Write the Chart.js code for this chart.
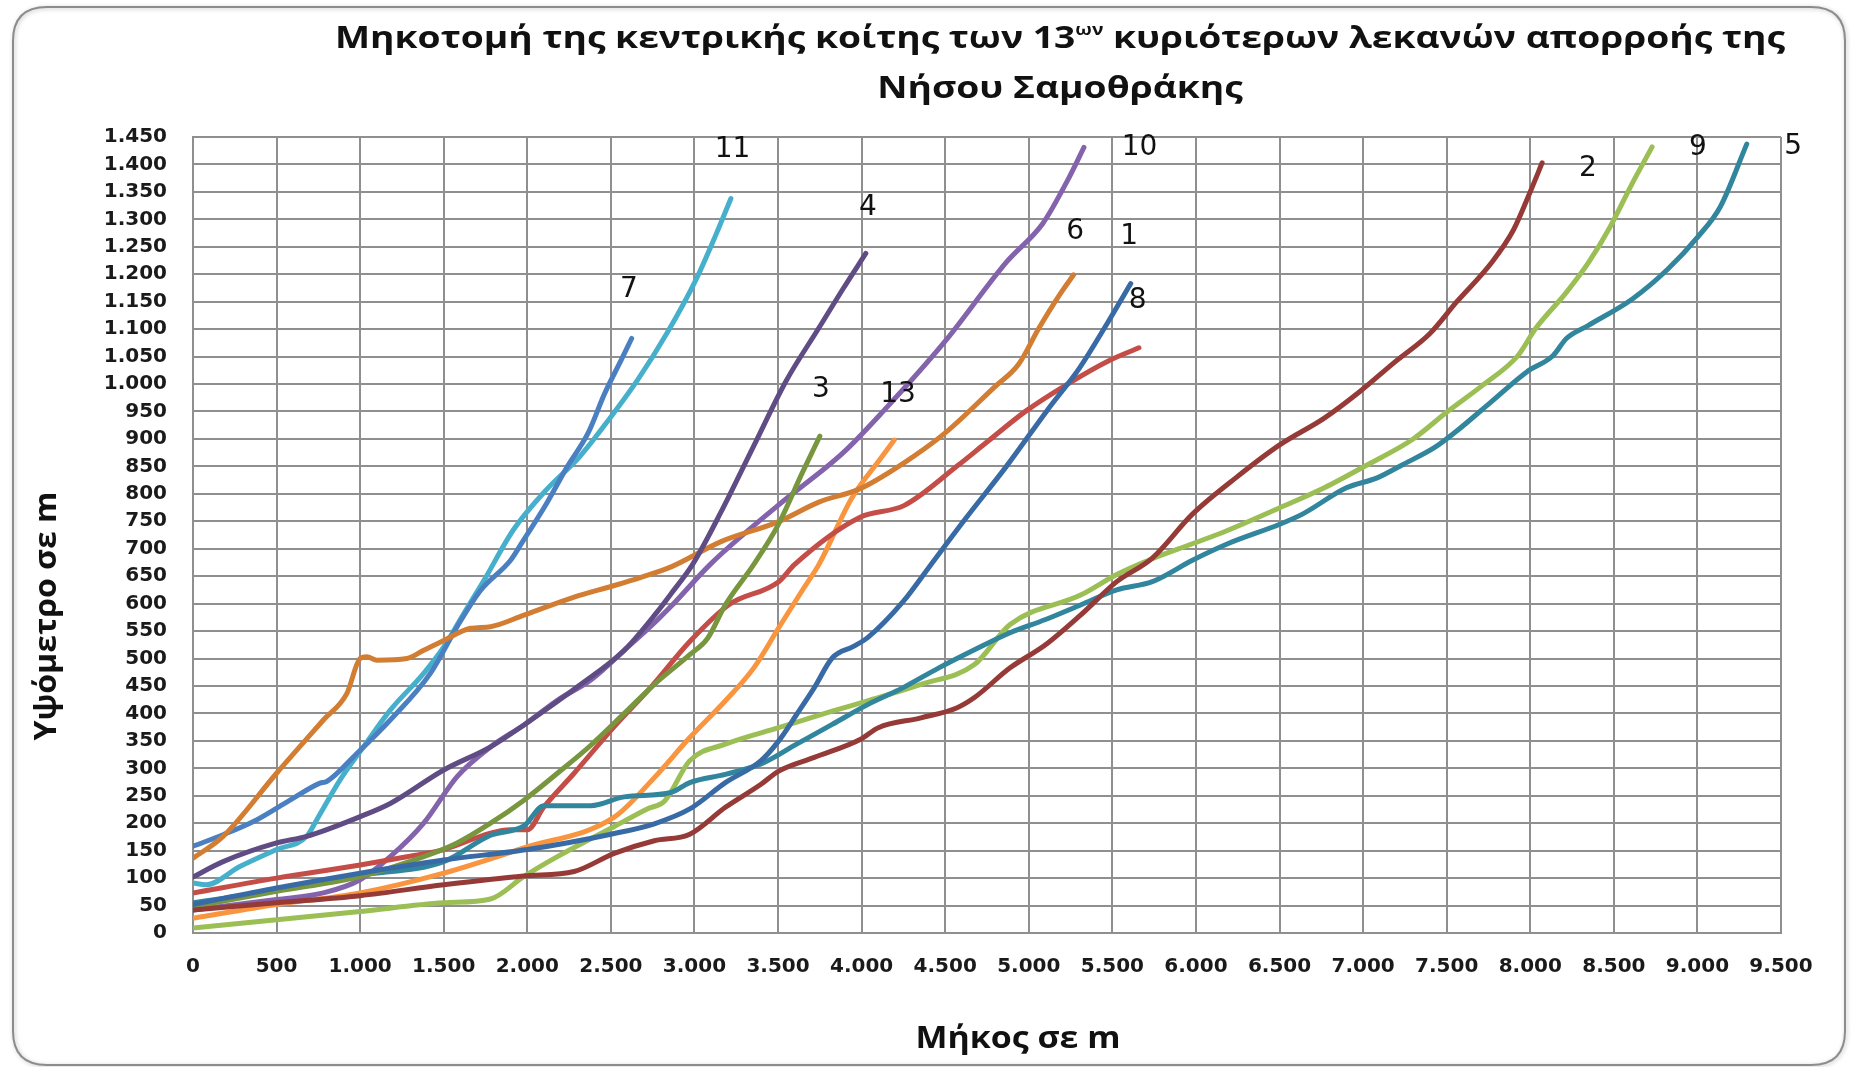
<!DOCTYPE html>
<html>
<head>
<meta charset="utf-8">
<script src="https://cdn.jsdelivr.net/npm/chart.js@4.4.1/dist/chart.umd.min.js"></script>
<style>
  html, body { margin: 0; padding: 0; background: #ffffff; }
  canvas { display: block; }
</style>
</head>
<body>
<canvas id="profile" width="1857" height="1067"></canvas>
<script>
// Longitudinal profiles of the main stream bed: distance (m) vs elevation (m)
const dist1 = [0, 500, 1000, 1500, 2000, 2500, 2760, 2972, 3185, 3398, 3504, 3611, 3717, 3824, 3951, 4036, 4249, 4400, 4622, 4866, 5110, 5305, 5476, 5610];
const elev1 = [52, 82, 109, 133, 152, 180, 199, 226, 274, 314, 350, 398, 447, 501, 522, 538, 604, 665, 755, 850, 952, 1030, 1114, 1183];

const dist2 = [0, 500, 1000, 1500, 1980, 2280, 2520, 2760, 2972, 3185, 3398, 3504, 3717, 3994, 4100, 4355, 4568, 4675, 4888, 5100, 5313, 5526, 5739, 5979, 6242, 6505, 6768, 6979, 7189, 7400, 7558, 7768, 7900, 8005, 8071];
const elev2 = [42, 55, 68, 88, 104, 112, 145, 168, 180, 229, 271, 295, 320, 353, 374, 392, 410, 429, 483, 525, 580, 640, 683, 763, 830, 890, 938, 986, 1040, 1092, 1149, 1221, 1281, 1354, 1403];

const dist3 = [0, 500, 1000, 1380, 1580, 1780, 1980, 2180, 2380, 2580, 2760, 2972, 3079, 3185, 3354, 3500, 3646, 3750];
const elev3 = [48, 76, 103, 139, 164, 200, 242, 291, 342, 400, 453, 507, 537, 598, 671, 743, 839, 905];

const dist4 = [0, 180, 500, 680, 1000, 1180, 1500, 1780, 1980, 2316, 2580, 2777, 2860, 2988, 3159, 3354, 3549, 3744, 3890, 4025];
const elev4 = [102, 130, 164, 176, 212, 236, 297, 339, 379, 452, 515, 585, 618, 671, 767, 887, 1006, 1102, 1174, 1238];

const dist5 = [0, 500, 1000, 1500, 1780, 1980, 2100, 2380, 2580, 2860, 2972, 3185, 3398, 3611, 3824, 4036, 4249, 4462, 4675, 4888, 5100, 5313, 5526, 5739, 5979, 6190, 6505, 6637, 6900, 7084, 7242, 7426, 7558, 7768, 7979, 8137, 8216, 8348, 8611, 8822, 9005, 9137, 9295];
const elev5 = [55, 78, 105, 130, 178, 195, 232, 232, 248, 256, 274, 289, 308, 344, 380, 416, 447, 483, 516, 547, 571, 598, 625, 640, 679, 709, 745, 763, 811, 829, 854, 884, 914, 968, 1022, 1052, 1083, 1107, 1155, 1209, 1269, 1323, 1437];

const dist6 = [0, 180, 500, 780, 920, 1000, 1040, 1100, 1280, 1380, 1500, 1660, 1780, 1980, 2280, 2520, 2680, 2860, 3159, 3500, 3744, 3988, 4256, 4500, 4793, 4939, 5061, 5183, 5268];
const elev6 = [136, 176, 291, 388, 436, 500, 503, 497, 500, 515, 533, 555, 558, 579, 612, 633, 648, 667, 713, 749, 785, 809, 857, 911, 994, 1036, 1102, 1162, 1199];

const dist7 = [0, 180, 380, 580, 760, 800, 980, 1180, 1420, 1580, 1720, 1900, 1968, 2116, 2240, 2364, 2463, 2562, 2624];
const elev7 = [158, 179, 206, 242, 273, 276, 327, 388, 473, 558, 624, 679, 711, 783, 850, 911, 983, 1044, 1083];

const dist8 = [0, 500, 1000, 1280, 1500, 1780, 1900, 2000, 2100, 2280, 2520, 2740, 2972, 3206, 3504, 3598, 3988, 4256, 4573, 4744, 4988, 5232, 5476, 5659];
const elev8 = [73, 100, 124, 139, 152, 182, 188, 188, 230, 291, 376, 448, 531, 598, 640, 671, 757, 779, 851, 893, 952, 1000, 1042, 1066];

const dist9 = [0, 500, 1000, 1500, 1780, 1980, 2180, 2520, 2717, 2823, 2972, 3185, 3504, 3824, 4036, 4355, 4675, 4888, 5313, 5526, 5716, 5979, 6163, 6505, 6768, 7032, 7295, 7505, 7716, 7927, 8032, 8216, 8348, 8479, 8611, 8729];
const elev9 = [9, 24, 39, 55, 62, 103, 139, 194, 226, 241, 314, 344, 374, 404, 423, 453, 489, 562, 616, 653, 679, 709, 730, 775, 811, 854, 899, 950, 998, 1052, 1101, 1167, 1221, 1287, 1366, 1432];

const dist10 = [0, 500, 780, 1000, 1180, 1380, 1580, 1780, 1980, 2180, 2380, 2580, 2777, 2860, 3096, 3500, 3890, 4134, 4500, 4866, 5085, 5232, 5330];
const elev10 = [42, 61, 73, 97, 139, 200, 285, 339, 379, 424, 461, 515, 570, 595, 672, 779, 875, 952, 1078, 1222, 1293, 1371, 1431];

const dist11 = [0, 80, 280, 500, 680, 740, 880, 1020, 1180, 1380, 1500, 1620, 1740, 1918, 2116, 2314, 2487, 2661, 2834, 3007, 3131, 3218];
const elev11 = [91, 88, 121, 152, 176, 206, 279, 339, 406, 473, 521, 582, 642, 735, 808, 868, 935, 1008, 1092, 1189, 1274, 1338];

const dist13 = [0, 500, 1000, 1500, 1980, 2520, 2760, 2972, 3185, 3355, 3504, 3653, 3744, 3939, 4110, 4195];
const elev13 = [27, 52, 73, 109, 155, 211, 283, 356, 423, 483, 556, 628, 671, 791, 863, 898];

// Basin numbers written next to the upper end of each profile (data units)
const tagText = ['11', '7', '4', '10', '6', '1', '8', '3', '13', '2', '9', '5'];
const tagDist = [3228, 2608, 4038, 5663, 5277, 5600, 5651, 3757, 4218, 8345, 9003, 9572];
const tagElev = [1426, 1171, 1321, 1430, 1277, 1268, 1151, 989, 980, 1393, 1430, 1432];

// Axis ranges
const xMax = 9500, xStep = 500;
const yMax = 1450, yStep = 50;

const titleLine1a = 'Μηκοτομή της κεντρικής κοίτης των 13';
const titleSup = 'ων';
const titleLine1b = ' κυριότερων λεκανών απορροής της';
const titleLine2 = 'Νήσου Σαμοθράκης';
const xTitle = 'Μήκος σε m';
const yTitle = 'Υψόμετρο σε m';

const series = [
  { id: '1',  d: dist1,  e: elev1,  color: '#386AA6' },
  { id: '2',  d: dist2,  e: elev2,  color: '#963A37' },
  { id: '3',  d: dist3,  e: elev3,  color: '#77963E' },
  { id: '4',  d: dist4,  e: elev4,  color: '#604C84' },
  { id: '5',  d: dist5,  e: elev5,  color: '#31869E' },
  { id: '6',  d: dist6,  e: elev6,  color: '#D27D32' },
  { id: '7',  d: dist7,  e: elev7,  color: '#4A7FC1' },
  { id: '8',  d: dist8,  e: elev8,  color: '#C44D48' },
  { id: '9',  d: dist9,  e: elev9,  color: '#9BBF55' },
  { id: '10', d: dist10, e: elev10, color: '#8363AC' },
  { id: '11', d: dist11, e: elev11, color: '#46B0CC' },
  { id: '13', d: dist13, e: elev13, color: '#F8953E' }
];

const datasets = series.map(s => ({
  label: s.id,
  data: s.d.map((x, i) => ({ x: x, y: s.e[i] })),
  borderColor: s.color,
  backgroundColor: s.color,
  borderWidth: 5,
  pointRadius: 0,
  fill: false,
  cubicInterpolationMode: 'monotone',
  borderCapStyle: 'round',
  borderJoinStyle: 'round'
}));

// Greek style thousands separator: 1.000, 1.450 ...
function fmt(v) {
  return String(v).replace(/\B(?=(\d{3})+(?!\d))/g, '.');
}

// Draws a string horizontally stretched/condensed to a given width
function fitText(ctx, text, cx, cy, width) {
  const w = ctx.measureText(text).width;
  ctx.save();
  ctx.translate(cx, cy);
  ctx.scale(width / w, 1);
  ctx.textAlign = 'center';
  ctx.fillText(text, 0, 0);
  ctx.restore();
}

const framePlugin = {
  id: 'frame',
  beforeDraw(chart) {
    const ctx = chart.ctx;
    ctx.save();
    ctx.fillStyle = '#ffffff';
    ctx.fillRect(0, 0, chart.width, chart.height);
    const x = 13, y = 7, w = 1832, h = 1058, r = 34;
    ctx.beginPath();
    ctx.moveTo(x + r, y);
    ctx.lineTo(x + w - r, y);
    ctx.quadraticCurveTo(x + w, y, x + w, y + r);
    ctx.lineTo(x + w, y + h - r);
    ctx.quadraticCurveTo(x + w, y + h, x + w - r, y + h);
    ctx.lineTo(x + r, y + h);
    ctx.quadraticCurveTo(x, y + h, x, y + h - r);
    ctx.lineTo(x, y + r);
    ctx.quadraticCurveTo(x, y, x + r, y);
    ctx.closePath();
    ctx.shadowColor = 'rgba(0,0,0,0.25)';
    ctx.shadowBlur = 4;
    ctx.shadowOffsetX = 1;
    ctx.shadowOffsetY = 1;
    ctx.strokeStyle = '#8c8c8c';
    ctx.lineWidth = 2;
    ctx.stroke();
    ctx.restore();
  }
};

const textPlugin = {
  id: 'texts',
  afterDraw(chart) {
    const ctx = chart.ctx;
    const xs = chart.scales.x, ys = chart.scales.y;
    ctx.save();
    ctx.fillStyle = '#111111';
    ctx.textBaseline = 'alphabetic';

    // Title, line 1 (with superscript)
    const mainFont = 'bold 31px "Open Sans"';
    const supFont = 'bold 16px "Open Sans"';
    ctx.font = mainFont;
    const wa = ctx.measureText(titleLine1a).width;
    const wb = ctx.measureText(titleLine1b).width;
    ctx.font = supFont;
    const ws = ctx.measureText(titleSup).width;
    const natural = wa + ws + wb;
    const target = 1450;
    const k = target / natural;
    ctx.save();
    ctx.translate(1060 - target / 2, 48);
    ctx.scale(k, 1);
    ctx.textAlign = 'left';
    ctx.font = mainFont;
    ctx.fillText(titleLine1a, 0, 0);
    ctx.font = supFont;
    ctx.fillText(titleSup, wa, -13);
    ctx.font = mainFont;
    ctx.fillText(titleLine1b, wa + ws, 0);
    ctx.restore();

    // Title, line 2
    ctx.font = mainFont;
    fitText(ctx, titleLine2, 1060, 98, ctx.measureText(titleLine2).width * k);

    // Axis titles
    ctx.font = 'bold 30px "Open Sans"';
    ctx.textBaseline = 'middle';
    fitText(ctx, xTitle, 1018, 1039, 205);
    ctx.save();
    ctx.translate(47, 616);
    ctx.rotate(-Math.PI / 2);
    fitText(ctx, yTitle, 0, 0, 249);
    ctx.restore();

    // Basin numbers
    ctx.font = '28px "DejaVu Sans"';
    ctx.textAlign = 'center';
    ctx.textBaseline = 'middle';
    for (let i = 0; i < tagText.length; i++) {
      ctx.fillText(tagText[i], xs.getPixelForValue(tagDist[i]), ys.getPixelForValue(tagElev[i]));
    }
    ctx.restore();
  }
};

const gridColor = '#8f8f8f';
const tickFont = { family: 'DejaVu Sans', size: 20, weight: 'bold', lineHeight: 1 };

new Chart(document.getElementById('profile'), {
  type: 'line',
  data: { datasets: datasets },
  options: {
    responsive: false,
    devicePixelRatio: 1,
    animation: false,
    layout: { padding: { left: 0, right: 76, top: 137, bottom: 0 } },
    plugins: {
      legend: { display: false },
      title: { display: false },
      tooltip: { enabled: false }
    },
    scales: {
      x: {
        type: 'linear',
        min: 0,
        max: xMax,
        afterFit(s) { s.height = 134; },
        ticks: {
          stepSize: xStep,
          autoSkip: false,
          maxRotation: 0,
          padding: 24,
          color: '#1a1a1a',
          font: tickFont,
          callback: v => fmt(v)
        },
        grid: { color: gridColor, lineWidth: 2, drawTicks: false },
        border: { color: gridColor, width: 2 }
      },
      y: {
        type: 'linear',
        min: 0,
        max: yMax,
        afterFit(s) { s.width = 193; },
        ticks: {
          stepSize: yStep,
          autoSkip: false,
          padding: 26,
          color: '#1a1a1a',
          font: tickFont,
          callback: v => fmt(v)
        },
        grid: { color: gridColor, lineWidth: 2, drawTicks: false },
        border: { color: gridColor, width: 2 }
      }
    }
  },
  plugins: [framePlugin, textPlugin]
});
</script>
</body>
</html>
